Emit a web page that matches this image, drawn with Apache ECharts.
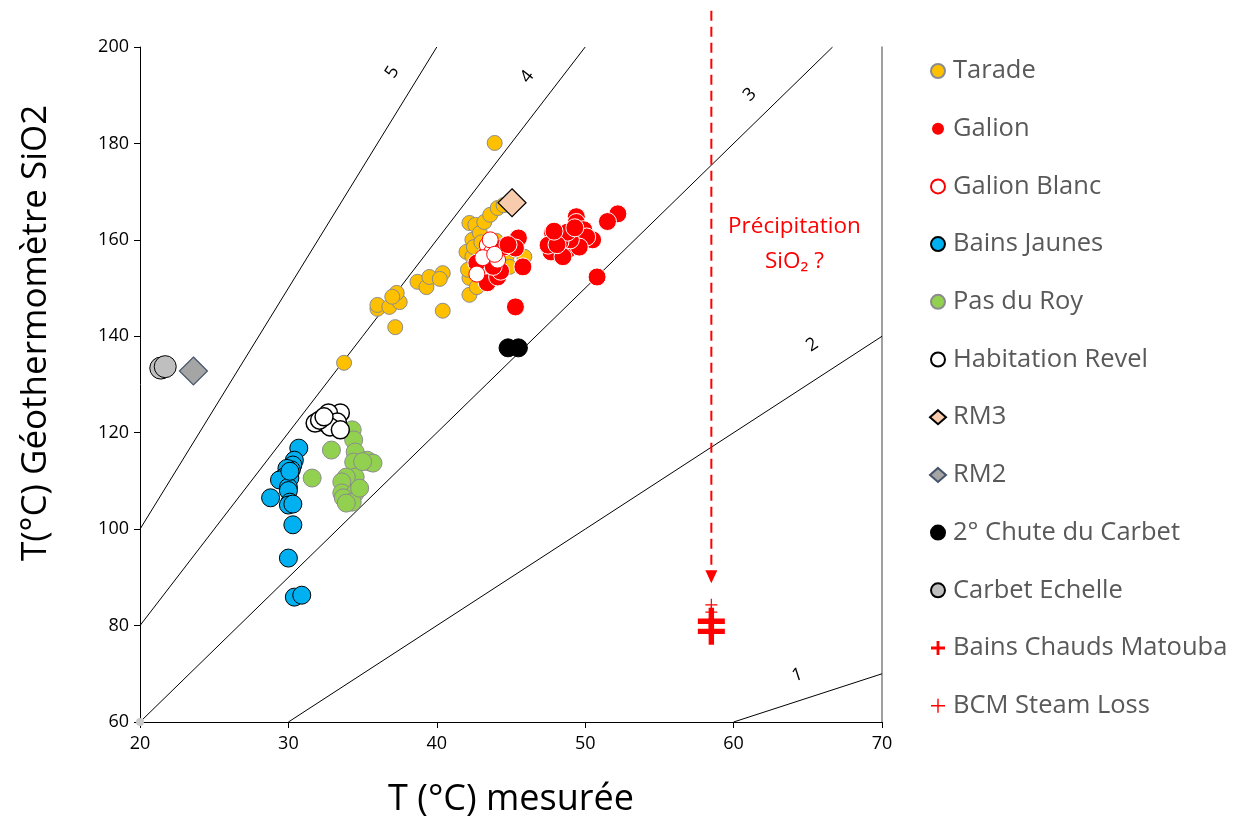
<!DOCTYPE html>
<html><head><meta charset="utf-8">
<script src="https://cdn.jsdelivr.net/npm/echarts@6/dist/echarts.min.js"></script>
<style>html,body{margin:0;padding:0;background:#fff}#c{width:1239px;height:819px}</style>
</head><body><div id="c"></div>
<script>
// ---- data ----
const xTicks = [20, 30, 40, 50, 60, 70];
const yTicks = [60, 80, 100, 120, 140, 160, 180, 200];
const tarade = [[33.75,134.5],[36.0,145.7],[36.0,146.5],[36.8,146.1],[37.2,141.9],[37.5,147.1],[37.3,149.0],[37.0,148.2],[38.7,151.3],[39.3,150.2],[39.5,152.3],[40.4,153.1],[40.2,151.9],[40.4,145.3],[42.2,148.6],[42.0,157.5],[42.2,152.1],[42.1,153.8],[42.4,160.0],[42.2,163.5],[42.6,163.1],[42.9,161.4],[43.2,163.7],[43.6,165.2],[44.1,166.6],[44.5,167.2],[42.4,156.5],[42.7,150.2],[42.5,158.5],[44.7,156.5],[45.9,156.5],[44.9,154.4],[43.9,180.1],[43.0,159.5],[44.0,159.8],[45.2,158.0]];
const galion = [[52.2,165.4],[51.5,163.8],[50.8,152.3],[45.3,146.1],[45.8,154.4],[49.4,164.8],[49.4,163.6],[47.8,161.4],[48.8,157.9],[48.0,157.3],[47.7,157.5],[50.5,160.0],[49.9,162.1],[50.1,160.6],[49.6,158.5],[49.0,160.0],[48.3,159.6],[47.5,158.9],[48.8,161.6],[49.3,162.5],[48.5,156.5],[45.4,160.0],[44.7,158.9],[45.5,160.4],[45.3,158.3],[43.4,151.1],[44.1,152.3],[42.7,155.2],[44.5,158.5],[43.4,157.3],[44.8,159.0],[44.3,153.5],[43.8,154.5],[48.1,159.0],[47.9,161.8]];
const galionBlanc = [[43.4,158.9],[43.7,157.5],[43.1,156.3],[42.7,152.9],[44.1,155.8],[43.6,160.0],[43.9,157.0]];
const bainsJaunes = [[30.7,116.8],[30.4,114.3],[30.3,113.3],[30.2,112.3],[29.9,112.6],[30.1,110.6],[29.7,110.8],[29.4,110.2],[30.0,108.7],[30.0,108.0],[28.8,106.5],[30.1,105.6],[30.0,105.0],[30.3,105.2],[30.3,100.9],[30.0,94.0],[30.4,85.9],[30.9,86.3],[30.1,112.0]];
const pasDuRoy = [[34.3,120.6],[34.4,118.5],[32.9,116.4],[34.5,116.0],[34.4,113.9],[35.5,113.9],[35.3,114.3],[35.7,113.7],[31.6,110.6],[34.5,110.8],[33.9,110.8],[33.6,109.8],[33.6,107.5],[34.5,107.5],[33.7,106.5],[34.3,105.6],[33.9,105.4],[34.8,108.5],[35.0,114.0]];
const habitationRevel = [[33.5,124.1],[32.7,124.1],[32.3,122.2],[31.8,122.0],[33.3,122.2],[32.8,121.2],[32.1,122.6],[33.5,120.6],[32.4,123.3]];
const rm3 = [[45.07,167.7]];
const rm2 = [[23.6,132.8]];
const chuteCarbet = [[44.8,137.6],[45.5,137.6]];
const carbetEchelle = [[21.4,133.4],[21.7,133.7]];
const originDot = [[20,60]];
const bainsChaudsMatouba = [[58.5,80.9],[58.5,78.8]];
const bcmSteamLoss = [[58.5,84.3],[58.5,82.8]];
// ratio reference lines (geothermometer T = k * measured T)
const ratioLines = [
  {k:'5', pts:[[20,100],[40,200]], label:[37.0,194.8]},
  {k:'4', pts:[[20,80],[50,200]], label:[46.1,193.8]},
  {k:'3', pts:[[20,60],[66.67,200]], label:[61.1,190.1]},
  {k:'2', pts:[[30,60],[70,140]], label:[65.3,138.2]},
  {k:'1', pts:[[60,60],[70,70]], label:[64.3,69.7]}
];
const arrowFrom = [58.5, 207.5];
const arrowTo = [58.5, 88.8];
const noteLines = ['Précipitation', 'SiO₂ ?'];
const notePos = [[64.1,162.7],[64.1,155.4]];
const yTitle = 'T(°C) Géothermomètre SiO2';
const xTitle = 'T (°C) mesurée';

// ---- chart ----
const FONT = 'Open Sans';
const plusThick = 'path://M40,0H60V40H100V60H60V100H40V60H0V40H40Z';
const plusThin = 'path://M45,0H55V45H100V55H55V100H45V55H0V45H45Z';
const chart = echarts.init(document.getElementById('c'));
function sc(name, data, symbol, size, fill, border, bw, z) {
  return {name, type:'scatter', data, symbol, symbolSize:size, z:z||3,
    itemStyle:{color:fill, borderColor:border, borderWidth:bw, opacity:1}, emphasis:{disabled:true}};
}
const series = [];
ratioLines.forEach(l => series.push({type:'line', data:l.pts, symbol:'none', silent:true, z:1,
  lineStyle:{color:'#000', width:1}}));
series.push(sc('', originDot, 'circle', 8, '#c8c8c8', '#c8c8c8', 0, 2));
series.push(sc('Tarade', tarade, 'circle', 15, '#FFC000', '#8c8c8c', 1, 3));
series.push(sc('Galion', galion, 'circle', 18, '#FF0000', '#ffffff', 1, 4));
series.push(sc('Galion Blanc', galionBlanc, 'circle', 16, '#ffffff', '#FF0000', 1, 5));
series.push(sc('Bains Jaunes', bainsJaunes, 'circle', 18, '#00B0F0', '#000000', 1, 3));
series.push(sc('Pas du Roy', pasDuRoy, 'circle', 18, '#92D050', '#8c8c8c', 1, 3));
series.push(sc('Habitation Revel', habitationRevel, 'circle', 18, '#ffffff', '#000000', 1.5, 3));
series.push(sc('RM3', rm3, 'diamond', 28, '#F8CBAD', '#000000', 1.2, 6));
series.push(sc('RM2', rm2, 'diamond', 28, '#A5A5A5', '#44546A', 1.2, 6));
series.push(sc('2° Chute du Carbet', chuteCarbet, 'circle', 18, '#000000', '#000000', 1, 4));
series.push(sc('Carbet Echelle', carbetEchelle, 'circle', 22, '#BFBFBF', '#000000', 1, 4));
series.push(sc('Bains Chauds Matouba', bainsChaudsMatouba, plusThick, 27, '#FF0000', '#FF0000', 0, 6));
series.push(sc('BCM Steam Loss', bcmSteamLoss, plusThin, 12, '#FF0000', '#FF0000', 0, 6));

const legendNames = ['Tarade','Galion','Galion Blanc','Bains Jaunes','Pas du Roy','Habitation Revel','RM3','RM2','2° Chute du Carbet','Carbet Echelle','Bains Chauds Matouba','BCM Steam Loss'];

chart.setOption({
  animation:false,
  backgroundColor:'#fff',
  textStyle:{fontFamily:FONT},
  grid:{left:140, right:357, top:47, bottom:97, containLabel:false, outerBoundsMode:'none'},
  legend:{orient:'vertical', left:924, top:53, itemGap:31.7, itemWidth:16, itemHeight:14,
    data:legendNames, selectedMode:false,
    textStyle:{fontFamily:FONT, fontSize:25.5, lineHeight:26, color:'#595959', padding:[0,0,0,2]}},
  xAxis:{type:'value', min:20, max:70, interval:10,
    name:xTitle, nameLocation:'middle', nameGap:60,
    nameTextStyle:{fontFamily:FONT, fontSize:36, color:'#000'},
    axisLine:{show:true, onZero:false, lineStyle:{color:'#000', width:1}},
    axisTick:{show:true, length:6, lineStyle:{color:'#000'}},
    axisLabel:{fontFamily:FONT, fontSize:18, color:'#000', margin:13, formatter:v=>String(v)},
    splitLine:{show:false}},
  yAxis:[{type:'value', min:60, max:200, interval:20,
    axisLine:{show:true, onZero:false, lineStyle:{color:'#000', width:1}},
    axisTick:{show:true, length:6, lineStyle:{color:'#000'}},
    axisLabel:{fontFamily:FONT, fontSize:18, color:'#000', margin:11},
    splitLine:{show:false}},
   {type:'value', min:60, max:200, interval:20, position:'right',
    axisLine:{show:true, lineStyle:{color:'#808080', width:1.5}},
    axisTick:{show:false}, axisLabel:{show:false}, splitLine:{show:false}}],
  series
});

// annotations placed through the chart's own scales
const px = p => chart.convertToPixel({gridIndex:0}, p);
const graphics = [];
ratioLines.forEach(l => {
  const a = px(l.pts[0]), b = px(l.pts[1]);
  const ang = Math.atan2(a[1]-b[1], b[0]-a[0]);
  const p = px(l.label);
  graphics.push({type:'text', x:p[0], y:p[1], rotation:ang, z:10,
    style:{text:l.k, fontFamily:FONT, fontSize:18, fill:'#000', align:'center', verticalAlign:'middle'}});
});
const a0 = px(arrowFrom), a1 = px(arrowTo);
graphics.push({type:'line', z:10, shape:{x1:a0[0], y1:a0[1], x2:a1[0], y2:a1[1]-12},
  style:{stroke:'#FF0000', lineWidth:2, lineDash:[10,6]}});
graphics.push({type:'polygon', z:10, shape:{points:[[a1[0]-6,a1[1]-13],[a1[0]+6,a1[1]-13],[a1[0],a1[1]]]},
  style:{fill:'#FF0000'}});
noteLines.forEach((t,i) => {
  const p = px(notePos[i]);
  graphics.push({type:'text', x:p[0], y:p[1], z:10,
    style:{text:t, fontFamily:FONT, fontSize:22.5, fill:'#FF0000', align:'center', verticalAlign:'middle'}});
});
// y axis title, placed beside the axis
const yt = px([20, 140.7]);
graphics.push({type:'text', x:36, y:yt[1], rotation:Math.PI/2, z:10,
  style:{text:yTitle, fontFamily:FONT, fontSize:35, fill:'#000', align:'center', verticalAlign:'middle'}});
chart.setOption({graphic:graphics});
</script></body></html>
